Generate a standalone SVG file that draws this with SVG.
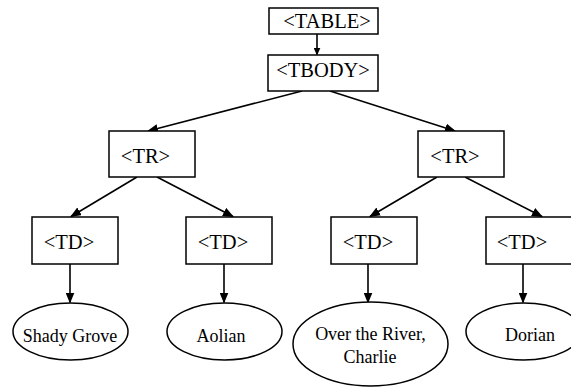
<svg xmlns="http://www.w3.org/2000/svg" width="571" height="387" viewBox="0 0 571 387">
<style>
.box{fill:#fff;stroke:#000;stroke-width:1.5}
.ell{fill:#fff;stroke:#000;stroke-width:1.5}
.edge{stroke:#000;stroke-width:1.6;fill:none}
.t{font-family:"Liberation Serif","Times New Roman",serif;font-size:20.5px;fill:#000;text-anchor:middle}
.e{font-family:"Liberation Serif","Times New Roman",serif;font-size:18px;fill:#000;text-anchor:middle}
</style>
<defs>
<marker id="ah" markerUnits="userSpaceOnUse" markerWidth="11" markerHeight="9" refX="10" refY="4.5" orient="auto" viewBox="0 0 11 9">
<path d="M0,0 L11,4.5 L0,9 z" fill="#000"/>
</marker>
<marker id="ahs" markerUnits="userSpaceOnUse" markerWidth="8" markerHeight="7" refX="7" refY="3.5" orient="auto" viewBox="0 0 8 7">
<path d="M0,0 L8,3.5 L0,7 z" fill="#000"/>
</marker>
</defs>
<rect width="571" height="387" fill="#fff"/>
<g id="connectors">
<line class="edge" x1="317" y1="34" x2="317" y2="54.5" marker-end="url(#ahs)"/>
<line class="edge" x1="302" y1="91" x2="148" y2="131" marker-end="url(#ah)"/>
<line class="edge" x1="330" y1="91" x2="455" y2="131" marker-end="url(#ah)"/>
<line class="edge" x1="137" y1="177" x2="71" y2="216.5" marker-end="url(#ah)"/>
<line class="edge" x1="157" y1="177" x2="233" y2="216.5" marker-end="url(#ah)"/>
<line class="edge" x1="437" y1="177" x2="370" y2="216.5" marker-end="url(#ah)"/>
<line class="edge" x1="465" y1="177" x2="542" y2="216.5" marker-end="url(#ah)"/>
<line class="edge" x1="70" y1="264" x2="70" y2="302.5" marker-end="url(#ah)"/>
<line class="edge" x1="224" y1="264" x2="224" y2="302.5" marker-end="url(#ah)"/>
<line class="edge" x1="368" y1="264" x2="368" y2="302.5" marker-end="url(#ah)"/>
<line class="edge" x1="523" y1="264" x2="523" y2="302.5" marker-end="url(#ah)"/>
</g>
<g id="table"><rect class="box" x="269" y="8" width="109" height="26"/><text class="t" x="327" y="28">&lt;TABLE&gt;</text></g>
<g id="tbody"><rect class="box" x="268" y="55" width="110" height="36"/><text class="t" x="323" y="77">&lt;TBODY&gt;</text></g>
<g id="tr1"><rect class="box" x="109" y="131" width="86" height="46"/><text class="t" x="145.5" y="163">&lt;TR&gt;</text></g>
<g id="tr2"><rect class="box" x="418" y="131" width="86" height="46"/><text class="t" x="455" y="163">&lt;TR&gt;</text></g>
<g id="td1"><rect class="box" x="32" y="217" width="86" height="47"/><text class="t" x="69" y="249">&lt;TD&gt;</text></g>
<g id="td2"><rect class="box" x="186" y="217" width="86" height="47"/><text class="t" x="223" y="249">&lt;TD&gt;</text></g>
<g id="td3"><rect class="box" x="331" y="217" width="86" height="47"/><text class="t" x="368" y="249">&lt;TD&gt;</text></g>
<g id="td4"><rect class="box" x="486" y="217" width="86" height="47"/><text class="t" x="522" y="249">&lt;TD&gt;</text></g>
<g id="shady"><ellipse class="ell" cx="70.5" cy="331.5" rx="57.5" ry="28.5"/><text class="e" x="70" y="342">Shady Grove</text></g>
<g id="aolian"><ellipse class="ell" cx="224.5" cy="331.5" rx="57.5" ry="28.5"/><text class="e" x="221" y="342">Aolian</text></g>
<g id="over"><ellipse class="ell" cx="370.5" cy="344" rx="77.5" ry="42"/><text class="e" x="370.5" y="340">Over the River,</text><text class="e" x="370" y="363">Charlie</text></g>
<g id="dorian"><ellipse class="ell" cx="523.5" cy="331.5" rx="57.5" ry="28.5"/><text class="e" x="530" y="341">Dorian</text></g>
</svg>
